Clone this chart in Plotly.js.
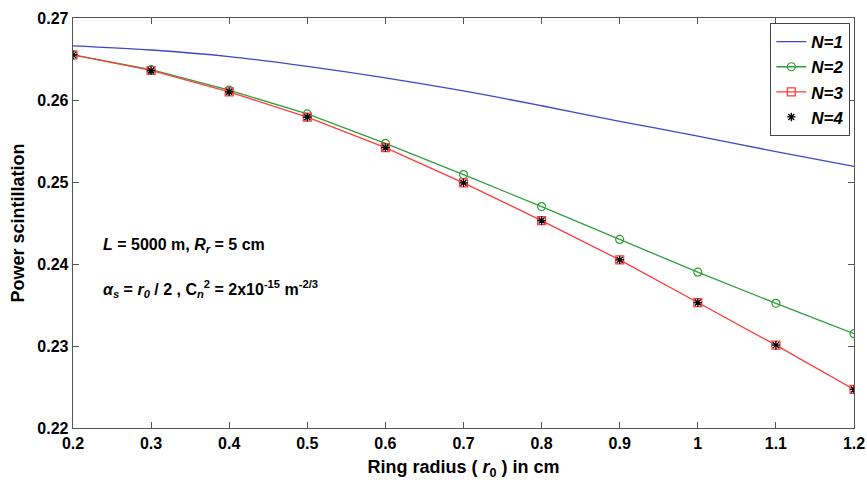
<!DOCTYPE html>
<html>
<head>
<meta charset="utf-8">
<script src="https://cdn.plot.ly/plotly-3.0.1.min.js"></script>
<style>html,body{margin:0;padding:0;background:#fff;}#chart{width:867px;height:485px;}</style>
</head>
<body>
<div id="chart"></div>
<script>
const radius = [0.2, 0.3, 0.4, 0.5, 0.6, 0.7, 0.8, 0.9, 1.0, 1.1, 1.2];
const n1 = [0.2666, 0.2661, 0.2653, 0.2641, 0.2627, 0.2611, 0.2593, 0.2574, 0.2556, 0.2537, 0.2519];
const n2 = [0.2655, 0.2637, 0.2612, 0.2583, 0.2547, 0.2509, 0.2470, 0.2430, 0.2390, 0.2352, 0.2315];
const n3 = [0.2655, 0.2636, 0.2610, 0.2579, 0.2542, 0.2499, 0.2453, 0.2405, 0.2353, 0.2301, 0.2247];
const n4 = [0.2655, 0.2636, 0.2610, 0.2579, 0.2542, 0.2499, 0.2453, 0.2405, 0.2353, 0.2301, 0.2247];
const yTicks = [0.22, 0.23, 0.24, 0.25, 0.26, 0.27];
const xTicks = [0.2, 0.3, 0.4, 0.5, 0.6, 0.7, 0.8, 0.9, 1, 1.1, 1.2];

const F = "Liberation Sans, Arial, sans-serif";
const traces = [
  {x: radius, y: n1, name: "<b><i>N=1</i></b>", mode: "lines", line: {color: "#3f48c4", width: 1.3, shape: "spline"}},
  {x: radius, y: n2, name: "<b><i>N=2</i></b>", mode: "lines+markers", line: {color: "#2f9e3a", width: 1.3},
   marker: {symbol: "circle-open", size: 8, color: "#2f9e3a", line: {width: 1.2}}},
  {x: radius, y: n3, name: "<b><i>N=3</i></b>", mode: "lines+markers", line: {color: "#ff3b3b", width: 1.3},
   marker: {symbol: "square-open", size: 8, color: "#ff3b3b", line: {width: 1.2}}},
  {x: radius, y: n4, name: "<b><i>N=4</i></b>", mode: "markers",
   marker: {symbol: "asterisk-open", size: 7, color: "#000", line: {width: 1.3, color: "#000"}}}
];

const axisCommon = {
  showgrid: false, zeroline: false, showline: true, linecolor: "#555", linewidth: 1.3,
  mirror: "ticks", ticks: "inside", ticklen: 6, tickcolor: "#555", tickwidth: 1,
  tickfont: {family: F, size: 16, color: "#000", weight: "bold"}
};

const layout = {
  width: 867, height: 485,
  margin: {l: 73, r: 13, t: 18, b: 57},
  paper_bgcolor: "#fff", plot_bgcolor: "#fff",
  showlegend: true,
  legend: {x: 0.995, y: 0.988, xanchor: "right", yanchor: "top", bgcolor: "#fff",
           bordercolor: "#444", borderwidth: 1.2, font: {family: F, size: 17, color: "#000"},
           tracegroupgap: 0, itemwidth: 30},
  xaxis: Object.assign({}, axisCommon, {
    range: [0.2, 1.2], tickvals: xTicks, ticktext: xTicks.map(String),
    title: {text: "<b>Ring radius ( <i>r</i><sub>0</sub> ) in cm</b>", font: {family: F, size: 18, color: "#000"}, standoff: 10}
  }),
  yaxis: Object.assign({}, axisCommon, {
    range: [0.22, 0.27], tickvals: yTicks, ticktext: yTicks.map(v => v.toFixed(2)),
    title: {text: "<b>Power scintillation</b>", font: {family: F, size: 18, color: "#000"}, standoff: 8}
  }),
  annotations: [
    {xref: "paper", yref: "paper", x: 0.036, y: 0.445, xanchor: "left", yanchor: "middle", showarrow: false,
     text: "<b><i>L</i> = 5000 m, <i>R<sub>r</sub></i> = 5 cm</b>", font: {family: F, size: 16, color: "#000"}},
    {xref: "paper", yref: "paper", x: 0.036, y: 0.34, xanchor: "left", yanchor: "middle", showarrow: false,
     text: "<b><i>α<sub>s</sub></i> = <i>r<sub>0</sub></i> / 2 , C<sub><i>n</i></sub><sup>2</sup> = 2x10<sup>-15</sup> m<sup>-2/3</sup></b>",
     font: {family: F, size: 16, color: "#000"}}
  ]
};

Plotly.newPlot("chart", traces, layout, {displayModeBar: false, staticPlot: true});
</script>
</body>
</html>
